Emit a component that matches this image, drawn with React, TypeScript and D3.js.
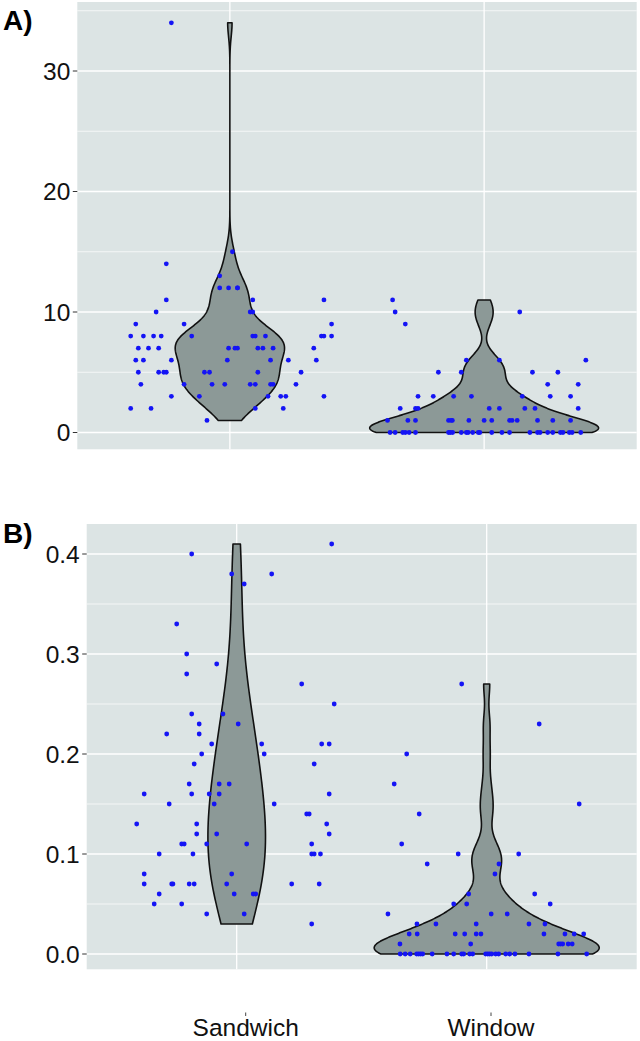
import React from 'react';
import * as d3 from 'd3';

const categories = ['Sandwich', 'Window'];

const majorTicksA = [0, 10, 20, 30];
const minorTicksA = [5, 15, 25, 35];
const tickLabelsA = ['0', '10', '20', '30'];

const majorTicksB = [0, 0.1, 0.2, 0.3, 0.4];
const minorTicksB = [0.05, 0.15, 0.25, 0.35];
const tickLabelsB = ['0.0', '0.1', '0.2', '0.3', '0.4'];

// [value, jitter offset in category units]
const sandwichA: [number, number][] = [
  [2, -0.39], [8, -0.39], [9, -0.37], [7, -0.36], [6, -0.37], [6, -0.34], [5, -0.36], [4, -0.35], [8, -0.34], [7, -0.32],
  [2, -0.31], [8, -0.30], [10, -0.29], [7, -0.28], [5, -0.28], [8, -0.27], [5, -0.26], [11, -0.25], [5, -0.25], [14, -0.25],
  [6, -0.23], [3, -0.23], [34, -0.23], [9, -0.18], [8, -0.15], [4, -0.18], [3, -0.12], [1, -0.09], [5, -0.10], [5, -0.08],
  [4, -0.07], [13, -0.04], [12, -0.04], [4, -0.02], [6, -0.01], [7, -0.005], [12, -0.005], [15, 0.01], [7, 0.02], [7, 0.03],
  [12, 0.03], [12, 0.03], [10, 0.08], [11, 0.09], [10, 0.09], [4, 0.08], [4, 0.10], [8, 0.09], [8, 0.10], [2, 0.10],
  [5, 0.11], [7, 0.11], [7, 0.13], [8, 0.14], [3, 0.15], [6, 0.16], [7, 0.17], [4, 0.16], [4, 0.17], [3, 0.20],
  [2, 0.21], [3, 0.22], [6, 0.23], [4, 0.26], [5, 0.28], [7, 0.33], [6, 0.34], [8, 0.36], [8, 0.37], [8, 0.40],
  [11, 0.37], [9, 0.40], [3, 0.37],
];

const windowA: [number, number][] = [
  [11, -0.36], [10, -0.35], [10, 0.14], [9, -0.31],
  [6, -0.07], [6, 0.06], [6, 0.4],
  [5, -0.18], [5, -0.09], [5, 0.19], [5, 0.29],
  [4, 0.25], [4, 0.37],
  [3, -0.26], [3, -0.2], [3, -0.12], [3, -0.05], [3, 0.15], [3, 0.26], [3, 0.34],
  [2, -0.33], [2, -0.27], [2, -0.26], [2, 0.02], [2, 0.06], [2, 0.16], [2, 0.2], [2, 0.37],
  [1, -0.38], [1, -0.3], [1, -0.27], [1, -0.14], [1, -0.13], [1, -0.125], [1, -0.06], [1, 0.0], [1, 0.03],
  [1, 0.1], [1, 0.11], [1, 0.13], [1, 0.21], [1, 0.27], [1, 0.34],
  [0, -0.37], [0, -0.35], [0, -0.32], [0, -0.31], [0, -0.295], [0, -0.27], [0, -0.14], [0, -0.133], [0, -0.124],
  [0, -0.09], [0, -0.07], [0, -0.063], [0, -0.045], [0, -0.023], [0, -0.017], [0, 0.03], [0, 0.07], [0, 0.1],
  [0, 0.18], [0, 0.21], [0, 0.22], [0, 0.25], [0, 0.27], [0, 0.3], [0, 0.31], [0, 0.335], [0, 0.346], [0, 0.38],
];

const sandwichB: [number, number][] = [
  [0.4, -0.18], [0.38, -0.02], [0.38, 0.14], [0.37, 0.03], [0.33, -0.24], [0.3, -0.2], [0.29, -0.08], [0.28, -0.2], [0.27, 0.26],
  [0.24, -0.18], [0.24, -0.055], [0.23, -0.15], [0.23, 0.006], [0.22, -0.28], [0.22, -0.15],
  [0.21, -0.1], [0.21, 0.1], [0.21, 0.34], [0.21, 0.37],
  [0.2, -0.14], [0.2, 0.11], [0.19, -0.17], [0.19, 0.31],
  [0.17, -0.19], [0.17, -0.07], [0.17, -0.03],
  [0.16, -0.37], [0.16, -0.18], [0.16, -0.11], [0.16, -0.07], [0.16, 0.37],
  [0.15, -0.27], [0.15, -0.09], [0.15, 0.15],
  [0.14, 0.28], [0.14, 0.29],
  [0.13, -0.4], [0.13, -0.16], [0.13, 0.36],
  [0.12, -0.16], [0.12, -0.08], [0.12, 0.37],
  [0.11, -0.22], [0.11, -0.21], [0.11, -0.12], [0.11, 0.04], [0.11, 0.3],
  [0.1, -0.31], [0.1, -0.175], [0.1, 0.3], [0.1, 0.31], [0.1, 0.335],
  [0.08, -0.37], [0.08, -0.02],
  [0.07, -0.37], [0.07, -0.26], [0.07, -0.255], [0.07, -0.19], [0.07, -0.17], [0.07, -0.04], [0.07, 0.22], [0.07, 0.33],
  [0.06, -0.31], [0.06, -0.01], [0.06, 0.066], [0.06, 0.076],
  [0.05, -0.33], [0.05, -0.22],
  [0.04, -0.12], [0.04, 0.03],
  [0.03, 0.3], [0.25, 0.39], [0.41, 0.38],
];

const windowB: [number, number][] = [
  [0.27, -0.1], [0.23, 0.21], [0.2, -0.32], [0.17, -0.37], [0.15, 0.37], [0.14, -0.27], [0.11, -0.34],
  [0.1, -0.114], [0.1, 0.128], [0.09, -0.238], [0.09, 0.049], [0.08, 0.033],
  [0.06, -0.072], [0.06, 0.192], [0.05, -0.132], [0.05, -0.08], [0.05, 0.254],
  [0.04, -0.395], [0.04, 0.018], [0.04, 0.082],
  [0.03, -0.279], [0.03, -0.203], [0.03, -0.042], [0.03, 0.169], [0.03, 0.233],
  [0.02, -0.31], [0.02, -0.278], [0.02, -0.126], [0.02, -0.088], [0.02, -0.042], [0.02, -0.023], [0.02, 0.229],
  [0.02, 0.313], [0.02, 0.35], [0.02, 0.388],
  [0.01, -0.347], [0.01, -0.064], [0.01, 0.288], [0.01, 0.296], [0.01, 0.304], [0.01, 0.326], [0.01, 0.342],
  [0, -0.346], [0, -0.326], [0, -0.306], [0, -0.28], [0, -0.272], [0, -0.264], [0, -0.256], [0, -0.218], [0, -0.159],
  [0, -0.132], [0, -0.1], [0, -0.092], [0, -0.068], [0, -0.056], [0, -0.004], [0, 0.004], [0, 0.012], [0, 0.02],
  [0, 0.036], [0, 0.048], [0, 0.076], [0, 0.092], [0, 0.113], [0, 0.169], [0, 0.285], [0, 0.4],
];

// kernel bandwidth multipliers (like ggplot's `adjust`) per panel and group
const adjustA = [1, 1];
const adjustB = [1.5, 1.15];

const FONT = "'Liberation Sans', Arial, Helvetica, sans-serif";
const PANEL_BG = '#dce4e4';
const VIOLIN_FILL = '#8c9997';
const POINT_COLOR = '#1414f5';

function bwNrd0(v: number[]): number {
  const s = [...v].sort((a, b) => a - b);
  const sd = d3.deviation(s) || 0;
  const iqr = (d3.quantileSorted(s, 0.75) || 0) - (d3.quantileSorted(s, 0.25) || 0);
  let lo = Math.min(sd, iqr / 1.34);
  if (!(lo > 0)) lo = sd || Math.abs(s[0]) || 1;
  return 0.9 * lo * Math.pow(s.length, -0.2);
}

function kde(values: number[], adjust: number, n = 512) {
  const bw = bwNrd0(values) * adjust;
  const lo = d3.min(values)!;
  const hi = d3.max(values)!;
  const norm = 1 / (values.length * bw * Math.sqrt(2 * Math.PI));
  const out: [number, number][] = [];
  for (let i = 0; i < n; i++) {
    const y = lo + ((hi - lo) * i) / (n - 1);
    let s = 0;
    for (const v of values) {
      const z = (y - v) / bw;
      s += Math.exp(-0.5 * z * z);
    }
    out.push([y, s * norm]);
  }
  return out;
}

type PanelProps = {
  label: string;
  labelY: number;
  left: number;
  right: number;
  top: number;
  bottom: number;
  yScale: d3.ScaleLinear<number, number>;
  major: number[];
  minor: number[];
  tickLabels: string[];
  groups: [number, number][][];
  adjust: number[];
};

function Panel({ label, labelY, left, right, top, bottom, yScale, major, minor, tickLabels, groups, adjust }: PanelProps) {
  const x = d3.scaleLinear().domain([0.4, 2.6]).range([left, right]);
  const dens = groups.map((g, gi) => kde(g.map((p) => p[0]), adjust[gi]));
  const maxD = d3.max(dens.flat(), (d) => d[1])!;
  const line = d3.line<[number, number]>().x((d) => d[0]).y((d) => d[1]);
  const paths = dens.map((dd, gi) => {
    const c = gi + 1;
    const rightSide = dd.map(([v, d]) => [x(c + (0.45 * d) / maxD), yScale(v)] as [number, number]);
    const leftSide = dd.map(([v, d]) => [x(c - (0.45 * d) / maxD), yScale(v)] as [number, number]).reverse();
    return line([...rightSide, ...leftSide]) + 'Z';
  });
  return (
    <g>
      <rect x={left} y={top} width={right - left} height={bottom - top} fill={PANEL_BG} />
      {minor.map((t) => (
        <line key={'mi' + t} x1={left} x2={right} y1={yScale(t)} y2={yScale(t)} stroke="#fff" strokeWidth={0.7} />
      ))}
      {major.map((t) => (
        <line key={'ma' + t} x1={left} x2={right} y1={yScale(t)} y2={yScale(t)} stroke="#fff" strokeWidth={1.3} />
      ))}
      {categories.map((c, i) => (
        <line key={c} x1={x(i + 1)} x2={x(i + 1)} y1={top} y2={bottom} stroke="#fff" strokeWidth={1.3} />
      ))}
      {paths.map((p, i) => (
        <path key={'v' + i} d={p} fill={VIOLIN_FILL} stroke="#111" strokeWidth={1.6} strokeLinejoin="round" />
      ))}
      {groups.map((g, gi) =>
        g.map(([v, j], k) => (
          <circle key={gi + '-' + k} cx={x(gi + 1 + j)} cy={yScale(v)} r={2.4} fill={POINT_COLOR} />
        ))
      )}
      {major.map((t, i) => (
        <g key={'t' + t}>
          <line x1={left - 4.5} x2={left} y1={yScale(t)} y2={yScale(t)} stroke="#333" strokeWidth={1} />
          <text x={left - 7} y={yScale(t) + 8.8} textAnchor="end" fontSize={24.5} fontFamily={FONT} fill="#111">
            {tickLabels[i]}
          </text>
        </g>
      ))}
      <text x={3} y={labelY} fontSize={28} fontWeight="bold" fontFamily={FONT} fill="#000">
        {label}
      </text>
    </g>
  );
}

export default function App() {
  const yA = d3.scaleLinear().domain([0, 30]).range([432.5, 71]);
  const yB = d3.scaleLinear().domain([0, 0.4]).range([954, 554]);
  const xAxis = d3.scaleLinear().domain([1, 2]).range([245.7, 491]);
  return (
    <svg width={640} height={1041} style={{ position: 'absolute', left: 0, top: 0, background: '#fff' }}>
      <rect x={0} y={0} width={640} height={1041} fill="#fff" />
      <Panel
        label="A)"
        labelY={30}
        left={77.3}
        right={636.7}
        top={2}
        bottom={449.3}
        yScale={yA}
        major={majorTicksA}
        minor={minorTicksA}
        tickLabels={tickLabelsA}
        groups={[sandwichA, windowA]}
        adjust={adjustA}
      />
      <Panel
        label="B)"
        labelY={543.3}
        left={86.7}
        right={636.7}
        top={524}
        bottom={969.3}
        yScale={yB}
        major={majorTicksB}
        minor={minorTicksB}
        tickLabels={tickLabelsB}
        groups={[sandwichB, windowB]}
        adjust={adjustB}
      />
      {categories.map((c, i) => (
        <g key={c}>
          <line x1={xAxis(i + 1)} x2={xAxis(i + 1)} y1={1012.5} y2={1016} stroke="#444" strokeWidth={1} />
          <text x={xAxis(i + 1)} y={1035.5} textAnchor="middle" fontSize={24.5} fontFamily={FONT} fill="#111">
            {c}
          </text>
        </g>
      ))}
    </svg>
  );
}
